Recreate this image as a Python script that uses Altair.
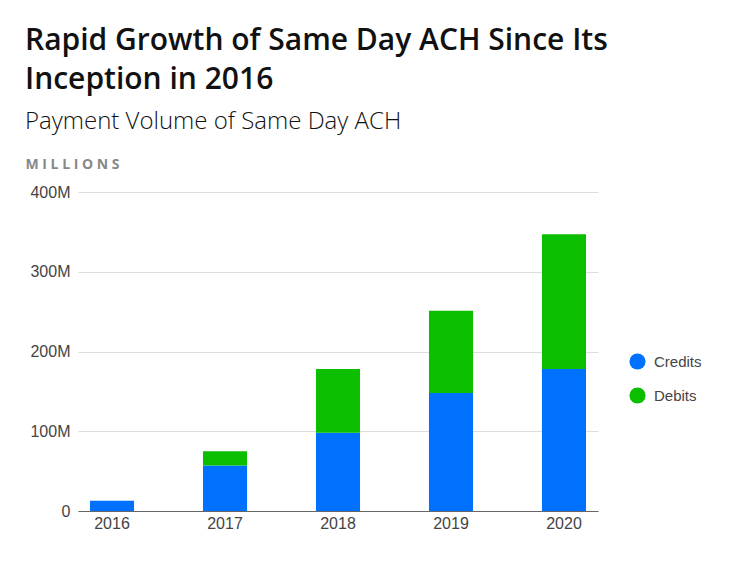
import altair as alt
import pandas as pd

years = ["2016", "2017", "2018", "2019", "2020"]
credits = [13, 57, 98, 148, 178]
debits = [0, 18, 80, 103, 169]
series = ["Credits", "Debits"]
colors = ["#0070ff", "#0bbf00"]

rows = []
for i, y in enumerate(years):
    rows.append({"year": y, "series": "Credits", "value": credits[i], "ord": 0})
    rows.append({"year": y, "series": "Debits", "value": debits[i], "ord": 1})
df = pd.DataFrame(rows)

chart = alt.Chart(df).mark_bar().encode(
    x=alt.X("year:N", sort=years,
            scale=alt.Scale(paddingInner=0.61, paddingOuter=0.106),
            axis=alt.Axis(title=None, labelAngle=0, ticks=False, grid=False, domainColor="#666",
                          domainWidth=1, labelFontSize=16, labelColor="#444",
                          labelFont="Liberation Sans", labelPadding=4)),
    y=alt.Y("value:Q", stack="zero",
            scale=alt.Scale(domain=[0, 400]),
            axis=alt.Axis(values=[0, 100, 200, 300, 400], domain=False, ticks=False,
                          gridColor="#dddddd", labelFontSize=16, labelColor="#444",
                          labelFont="Liberation Sans", labelPadding=8,
                          labelExpr="datum.value == 0 ? '0' : datum.value + 'M'",
                          title="M I L L I O N S", titleAngle=0, titleAlign="left",
                          titleBaseline="alphabetic", titleX=-53, titleY=-24,
                          titleFont="Open Sans", titleFontSize=14, titleFontWeight="bold",
                          titleColor="#888")),
    color=alt.Color("series:N", scale=alt.Scale(domain=series, range=colors),
                    legend=alt.Legend(title=None, orient="none", legendX=551, legendY=161,
                                      symbolType="circle", symbolSize=260,
                                      symbolStrokeWidth=0, labelFontSize=15,
                                      labelColor="#444", labelFont="Liberation Sans",
                                      rowPadding=17, labelOffset=8)),
    order=alt.Order("ord:Q"),
).properties(
    width=520, height=319,
    title=alt.TitleParams(
        text=["Rapid Growth of Same Day ACH Since Its", "Inception in 2016"],
        subtitle="Payment Volume of Same Day ACH",
        anchor="start", font="Open Sans", fontSize=30, fontWeight=600, color="#111",
        lineHeight=39, subtitleFont="Open Sans", subtitleFontSize=24,
        subtitleFontWeight=300, subtitleColor="#111", subtitlePadding=15, offset=23),
).configure(
    padding={"left": 17, "top": 18, "right": 10, "bottom": 10}
).configure_view(stroke=None)

chart.save("out.html", embed_options={"renderer": "svg", "actions": False})
